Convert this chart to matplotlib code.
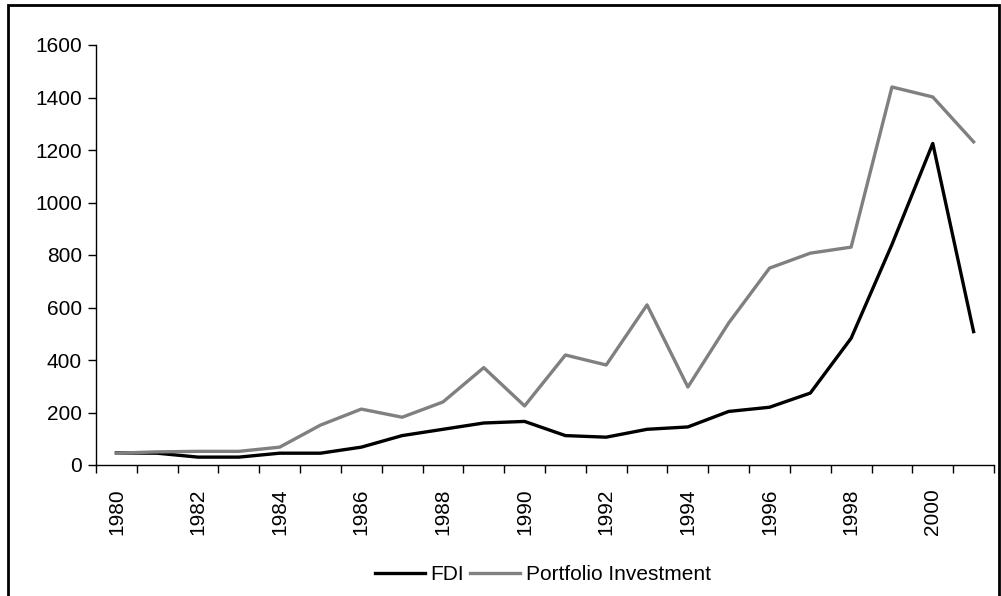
import numpy as np
import matplotlib.pyplot as plt
from matplotlib.patches import Rectangle

plt.rcParams['font.family'] = ['Liberation Sans', 'DejaVu Sans']

years = list(range(1980, 2002))
fdi = [46, 45, 30, 30, 45, 45, 68, 112, 136, 160, 166, 112, 106, 136, 145,
       204, 220, 274, 483, 840, 1225, 508]
portfolio = [45, 50, 52, 52, 68, 152, 213, 182, 240, 371, 225, 419, 381, 610,
             297, 541, 750, 807, 830, 1440, 1402, 1231]

fig = plt.figure(figsize=(10.01, 5.96), dpi=100)
# outer chart border
fig.patches.append(Rectangle((8 / 1001, -0.01), 991 / 1001, 1 - 5 / 596 + 0.01,
                             transform=fig.transFigure, fill=False,
                             edgecolor='black', linewidth=2))

ax = fig.add_axes([96 / 1001, 1 - 465 / 596, 898 / 1001, 420 / 596])
x = np.arange(len(years))
ax.plot(x, fdi, color='black', linewidth=2.4, label='FDI')
ax.plot(x, portfolio, color='#808080', linewidth=2.4, label='Portfolio Investment')

ax.set_xlim(-0.5, len(years) - 0.5)
ax.set_ylim(0, 1600)
ax.set_yticks(range(0, 1601, 200))
ax.set_xticks(x[::2])
ax.set_xticklabels([str(y) for y in years[::2]], rotation=90, fontsize=15)
ax.set_xticks(np.arange(-0.5, len(years), 1), minor=True)
ax.tick_params(axis='x', which='major', length=0, pad=17)
ax.tick_params(axis='x', which='minor', length=6, direction='out', width=1)
ax.tick_params(axis='y', length=6, width=1, labelsize=15, pad=4)

for s in ['top', 'right']:
    ax.spines[s].set_visible(False)
for s in ['left', 'bottom']:
    ax.spines[s].set_linewidth(1)

fig.legend(loc='center', bbox_to_anchor=(543 / 1001, 1 - 575 / 596), ncol=2,
           frameon=False, fontsize=15, handlelength=2.4, handletextpad=0.25,
           columnspacing=0.3, borderpad=0)

fig.savefig('out.png', dpi=100)
